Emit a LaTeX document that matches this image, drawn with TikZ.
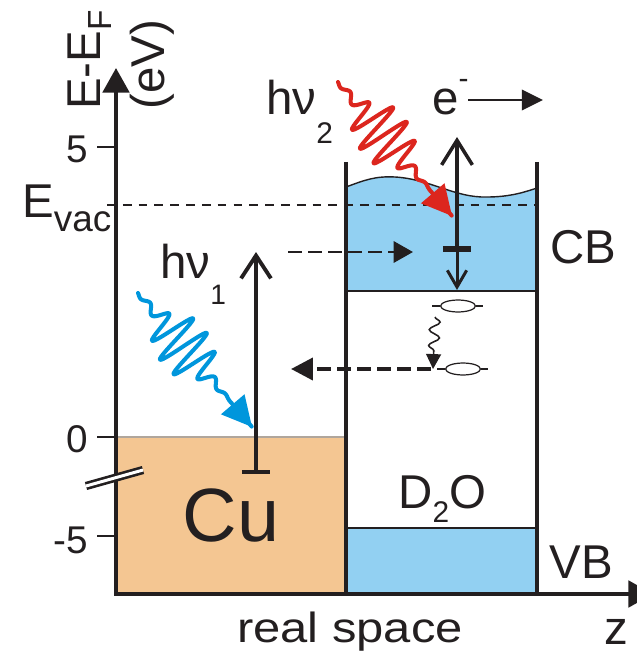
\documentclass[tikz,border=0pt]{standalone}
\usepackage{fontspec}
\setmainfont{Liberation Sans}
\usepackage{tikz}
\usetikzlibrary{arrows.meta, positioning, shapes.geometric, decorations.pathmorphing}
\definecolor{inkcolor}{RGB}{35,31,32}
\definecolor{cucolor}{RGB}{244,198,146}
\definecolor{bandcolor}{RGB}{146,208,242}
\definecolor{bluephoton}{RGB}{0,150,220}
\definecolor{redphoton}{RGB}{220,38,30}
\definecolor{edgegray}{RGB}{176,166,156}

\newcommand{\lowered}[3]{\raisebox{#1}{\fontsize{#2}{#2}\selectfont #3}}
\newcommand{\photonwave}[2]{%
  \begin{scope}[shift={#2}, rotate=-49.6]
    \draw[#1, line width=2.3pt, line join=round, line cap=round, -{Triangle[length=17pt, width=17pt]}]
      plot[domain=0:176, samples=300]
      (\x, {(23*exp(-min(((\x-70)/33)^4, 9)) + 3.5*exp(-min(((\x-68)/66)^8, 9)))*sin(\x/20*360)});
  \end{scope}}

\begin{document}
\begin{tikzpicture}[x=0.02cm, y=-0.02cm,
    lbl/.style={inner sep=0pt, text=inkcolor, font=\fontsize{27}{32}\selectfont},
    ticklbl/.style={lbl, anchor=base east, font=\fontsize{22}{26}\selectfont},
    axis/.style={inkcolor, line width=2.3pt},
    wall/.style={inkcolor, line width=1.9pt},
    edge/.style={inkcolor, line width=0.8pt},
    transfer/.style={inkcolor, dash pattern=on 8pt off 3.4pt},
    trap/.style={draw=inkcolor, ellipse, line width=0.7pt, minimum width=19.8pt, minimum height=6.8pt, inner sep=0pt}
]
    \useasboundingbox (0,0) rectangle (636,655);

    % Bands
    \fill[cucolor] (116,437) rectangle (346,594);
    \draw[edgegray, line width=0.9pt] (116,437) -- (346,437);
    \fill[bandcolor] (346,291) -- (346,187) .. controls (365,180) and (375,176) .. (395,177)
        .. controls (430,179) and (455,198) .. (487,197) .. controls (510,197) and (525,192) .. (537,188)
        -- (537,291) -- cycle;
    \draw[edge] (346,187) .. controls (365,180) and (375,176) .. (395,177)
        .. controls (430,179) and (455,198) .. (487,197) .. controls (510,197) and (525,192) .. (537,188);
    \draw[edge] (346,291) -- (537,291);
    \fill[bandcolor] (346,528) rectangle (537,594);
    \draw[edge] (346,528) -- (537,528);

    % Vacuum level
    \draw[inkcolor, line width=0.8pt, dash pattern=on 5pt off 4pt] (107,205) -- (537,205);

    % D2O layer
    \draw[wall] (346,162) -- (346,594);
    \draw[wall] (537,162) -- (537,594);

    % Axes
    \coordinate (origin) at (116,594);
    \coordinate (ytip) at (116,68);
    \coordinate (xtip) at (653,594);
    \draw[axis, {Triangle[length=14pt, width=15pt]}-{Triangle[length=14pt, width=15pt]}] (ytip) -- (origin) -- (xtip);
    \foreach \ty/\tl/\tb [count=\i] in {147/5/163, 437/0/452, 536/-5/553} {
        \draw[inkcolor, line width=1.5pt] (97,\ty) -- (116,\ty);
        \node[ticklbl] (tick\i) at (88,\tb) {\tl};
    }
    \draw[inkcolor, line width=1.5pt, double=white, double distance=1.7pt] (86,486) -- (143,470);

    % Labels
    \node[lbl, rotate=90, anchor=base west] (ylab) at (100,110) {E-E\lowered{-6.8pt}{19}{F}};
    \node[lbl, rotate=90, anchor=base west] (yunit) at (164,110) {(eV)};
    \node[lbl, anchor=base west] (evac) at (22,217) {E\lowered{-8.5pt}{21}{vac}};
    \node[lbl, anchor=base, font=\fontsize{43}{50}\selectfont] (cu) at (231,541) {Cu};
    \node[lbl, anchor=base west] (d2o) at (398,508) {D\lowered{-8pt}{17}{2}O};
    \node[lbl, anchor=base west] (cb) at (550,263) {CB};
    \node[lbl, anchor=base west] (vb) at (549,578) {VB};
    \node[lbl, anchor=base, font=\fontsize{24}{28}\selectfont] (space) at (350,642) {\scalebox{1.16}[1]{real space}};
    \node[lbl, anchor=base west] (zlab) at (604,644) {z};
    \node[lbl, anchor=base west] (hv1) at (160,278) {hν\lowered{-15pt}{16}{1}};
    \node[lbl, anchor=base west] (hv2) at (266,115) {hν\lowered{-16pt}{17}{2}};
    \node[lbl, anchor=base west] (elec) at (432,115) {e\raisebox{15pt}{\fontsize{17}{17}\selectfont -}};

    % Photons
    \photonwave{bluephoton}{(138,293)}
    \photonwave{redphoton}{(338,82)}

    % Excitation in Cu
    \coordinate (cuexc) at (256,472);
    \coordinate (cutop) at (256,252);
    \draw[inkcolor, line width=2.2pt, -{Straight Barb[length=13pt, width=17pt]}] (cuexc) -- (cutop);
    \draw[inkcolor, line width=2.3pt] ([xshift=-8pt]cuexc) -- ([xshift=8pt]cuexc);

    % Injection into CB
    \coordinate (injfrom) at (288,252);
    \coordinate (injto) at (413,252);
    \draw[transfer, line width=1.7pt, -{Triangle[length=11pt, width=12pt]}] (injfrom) -- (injto);

    % Excitation in CB
    \coordinate (cbmid) at (457,249);
    \coordinate (cbtop) at (457,137);
    \coordinate (cbbot) at (457,290);
    \draw[inkcolor, line width=2pt, -{Straight Barb[length=14pt, width=17.5pt]}] (cbmid) -- (cbtop);
    \draw[inkcolor, line width=1.7pt, -{Straight Barb[length=9.5pt, width=11pt]}] (cbmid) -- (cbbot);
    \draw[inkcolor, line width=3.4pt] ([xshift=-8pt]cbmid) -- ([xshift=8pt]cbmid);

    % Emission
    \coordinate (emit) at (468,100);
    \coordinate (emitend) at (543,100);
    \draw[inkcolor, line width=1.7pt, -{Triangle[length=12pt, width=11.5pt]}] (emit) -- (emitend);

    % Trapped states
    \node[trap] (trap1) at (458,306) {};
    \node[trap] (trap2) at (463,369) {};
    \foreach \t in {trap1, trap2} {
        \draw[inkcolor, line width=0.7pt] (\t.west) -- ++(-8,0);
        \draw[inkcolor, line width=0.7pt] (\t.east) -- ++(7,0);
    }
    \coordinate (relaxfrom) at (435,317);
    \coordinate (relaxto) at (433,369);
    \draw[inkcolor, line width=0.9pt, decorate, decoration={snake, amplitude=3pt, segment length=9pt, post length=9pt},
        -{Triangle[length=8.5pt, width=8.5pt]}] (relaxfrom) -- (relaxto);

    % Back transfer
    \coordinate (backfrom) at (431,369);
    \coordinate (backto) at (291,369);
    \draw[transfer, line width=2.3pt, -{Triangle[length=12.5pt, width=12.5pt]}] (backfrom) -- (backto);
\end{tikzpicture}
\end{document}
